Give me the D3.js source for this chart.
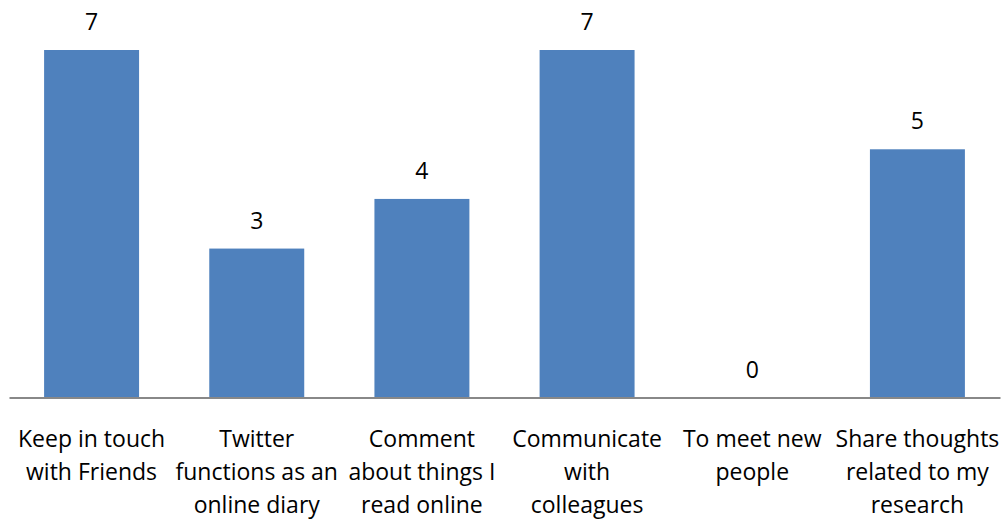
<!DOCTYPE html>
<html>
<head>
<meta charset="utf-8">
<script src="https://cdn.jsdelivr.net/npm/d3@7"></script>
<style>
  html, body { margin: 0; padding: 0; background: #fff; }
  svg text { font-family: "Open Sans", "Lato", sans-serif; fill: #000; }
</style>
</head>
<body>
<svg id="chart" width="1004" height="521"></svg>
<script>
const categories = [
  "Keep in touch with Friends",
  "Twitter functions as an online diary",
  "Comment about things I read online",
  "Communicate with colleagues",
  "To meet new people",
  "Share thoughts related to my research"
];
const categoryLines = [
  ["Keep in touch", "with Friends"],
  ["Twitter", "functions as an", "online diary"],
  ["Comment", "about things I", "read online"],
  ["Communicate", "with", "colleagues"],
  ["To meet new", "people"],
  ["Share thoughts", "related to my", "research"]
];
const values = [7, 3, 4, 7, 0, 5];

const svg = d3.select("#chart");
const x = d3.scaleBand().domain(categories).range([9, 1000]).paddingInner(0.425).paddingOuter(0.2125);
const y = d3.scaleLinear().domain([0, 7]).range([397.5, 50]);

svg.selectAll("rect.bar").data(values).join("rect")
  .attr("class", "bar")
  .attr("x", (d, i) => x(categories[i]))
  .attr("y", d => y(d))
  .attr("width", x.bandwidth())
  .attr("height", d => y(0) - y(d))
  .attr("fill", "#4F81BD");

svg.selectAll("text.val").data(values).join("text")
  .attr("class", "val")
  .attr("x", (d, i) => x(categories[i]) + x.bandwidth() / 2)
  .attr("y", d => y(d) - 20)
  .attr("text-anchor", "middle")
  .attr("font-size", 23)
  .text(d => d);

const xAxis = d3.axisBottom(x).tickSize(0).tickFormat("");
const ax = svg.append("g").attr("transform", `translate(0,${y(0)})`).call(xAxis);
ax.select(".domain").attr("stroke", "#888").attr("stroke-width", 2);

const lab = svg.append("g");
categories.forEach((c, i) => {
  const t = lab.append("text")
    .attr("x", x(c) + x.bandwidth() / 2)
    .attr("y", 447)
    .attr("text-anchor", "middle")
    .attr("font-size", 23);
  categoryLines[i].forEach((ln, j) => {
    t.append("tspan").attr("x", x(c) + x.bandwidth() / 2).attr("y", 447 + j * 33).text(ln);
  });
});
</script>
</body>
</html>
